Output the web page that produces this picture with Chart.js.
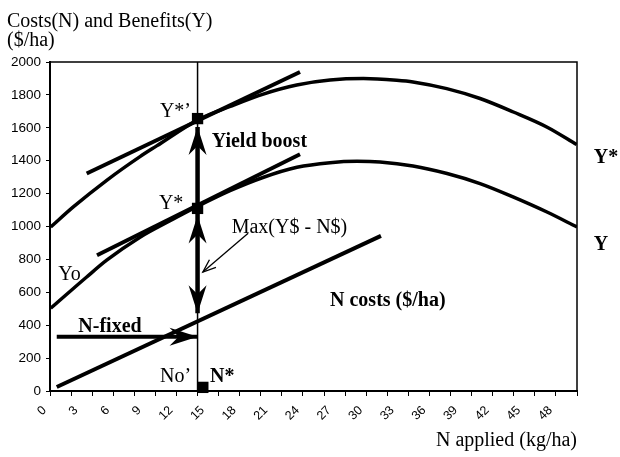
<!DOCTYPE html>
<html>
<head>
<meta charset="utf-8">
<script src="https://cdn.jsdelivr.net/npm/chart.js@4.4.1/dist/chart.umd.min.js"></script>
<style>
  html, body { margin: 0; padding: 0; background: #fff; }
  #wrap { width: 620px; height: 457px; }
</style>
</head>
<body>
<div id="wrap"><canvas id="costChart" width="620" height="457"></canvas></div>
<script>
// axis ticks (N applied, kg/ha)
const xTickLabels = [0, 3, 6, 9, 12, 15, 18, 21, 24, 27, 30, 33, 36, 39, 42, 45, 48];
const xTickMarks = [1, 3, 5, 7, 9, 11, 13, 15, 17, 19, 21, 23, 25, 27, 29, 31, 33, 35, 37, 39, 41, 43, 45, 47, 49, 51];

// Y : benefit curve without the yield boost ($/ha)
const yieldX = [1.07, 4.48, 6.38, 9.54, 12.39, 15.07, 18.08, 21.2, 24.43, 27.57, 30.13, 32.31, 35.44, 38.67, 41.8, 44.93, 48.15, 51];
const yieldY = [503, 693, 795, 935, 1035, 1125, 1218, 1298, 1360, 1388, 1396, 1392, 1368, 1322, 1261, 1180, 1088, 997];

// Y* : benefit curve with the yield boost ($/ha)
const boostX = [1.07, 3.21, 6.38, 9.54, 11.12, 15.07, 18.1, 21.24, 24.41, 27.57, 30.73, 33.89, 35.44, 38.64, 41.8, 44.96, 48.13, 50.97];
const boostY = [997, 1119, 1281, 1425, 1490, 1650, 1730, 1805, 1860, 1890, 1899, 1889, 1879, 1838, 1778, 1696, 1605, 1498];

// N costs line and the two tangents (same slope)
const nCostX = [1.64, 32.4];
const nCostY = [24, 943];
const tanBoostX = [4.48, 24.72];
const tanBoostY = [1322, 1939];
const tanYieldX = [5.46, 24.72];
const tanYieldY = [825, 1439];

// optimum N rate and the marked points
const optN = 15;
const markerX = [15, 15, 15.5];
const markerY = [1656, 1110, 22];

// thick arrow along N = 15, N-fixed arrow, pointer from the Max label
const shaftY = [472, 1605];
const nFixedX = [1.64, 15];
const nFixedY = [330, 330];
const maxPtrX = [19.8, 15.5];
const maxPtrY = [959, 723];

const arrows = [
  { from: [15, 1110], to: [15, 1605] },
  { from: [15, 700], to: [15, 1067] },
  { from: [15, 700], to: [15, 472] },
  { from: [nFixedX[0], nFixedY[0]], to: [nFixedX[1], nFixedY[1]] },
  { from: [maxPtrX[0], maxPtrY[0]], to: [maxPtrX[1], maxPtrY[1]], thin: true }
];

const notes = [
  { text: 'Y*\u2019', x: 14.38, y: 1666, align: 'right' },
  { text: 'Yield boost', x: 16.34, y: 1483, bold: true },
  { text: 'Y*', x: 13.65, y: 1109, align: 'right' },
  { text: 'Max(Y$ - N$)', x: 18.24, y: 958 },
  { text: 'Yo', x: 1.79, y: 673 },
  { text: 'N costs ($/ha)', x: 27.57, y: 518, bold: true },
  { text: 'N-fixed', x: 3.69, y: 359, bold: true },
  { text: 'No\u2019', x: 11.44, y: 55 },
  { text: 'N*', x: 16.18, y: 55, bold: true },
  { text: 'Y*', x: 52.6, y: 1384, bold: true },
  { text: 'Y', x: 52.6, y: 855, bold: true }
];

const serif = "'Liberation Serif', 'Times New Roman', serif";
const sans = "'Liberation Sans', Arial, sans-serif";

const pts = (xs, ys) => xs.map((x, i) => ({ x: x, y: ys[i] }));

function toPx(chart, x, y) {
  return [chart.scales.x.getPixelForValue(x), chart.scales.y.getPixelForValue(y)];
}

// frame, arrow heads and text labels
const overlay = {
  id: 'overlay',
  beforeDatasetsDraw(chart) {
    const { ctx, chartArea: a } = chart;
    ctx.save();
    ctx.strokeStyle = '#000';
    ctx.lineWidth = 1.5;
    ctx.strokeRect(a.left, a.top, a.right - a.left, a.bottom - a.top);
    ctx.restore();
  },
  afterDatasetsDraw(chart) {
    const ctx = chart.ctx;
    ctx.save();
    ctx.fillStyle = '#000';
    ctx.strokeStyle = '#000';
    arrows.forEach(ar => {
      const [x0, y0] = toPx(chart, ar.from[0], ar.from[1]);
      const [x1, y1] = toPx(chart, ar.to[0], ar.to[1]);
      const len = Math.hypot(x1 - x0, y1 - y0);
      const ux = (x1 - x0) / len, uy = (y1 - y0) / len;
      const nx = -uy, ny = ux;
      if (ar.thin) {
        ctx.lineWidth = 1.3;
        ctx.beginPath();
        ctx.moveTo(x1 - 13 * ux + 5 * nx, y1 - 13 * uy + 5 * ny);
        ctx.lineTo(x1, y1);
        ctx.lineTo(x1 - 13 * ux - 5 * nx, y1 - 13 * uy - 5 * ny);
        ctx.stroke();
      } else {
        const L = 28, W = 9, N = 9;
        ctx.beginPath();
        ctx.moveTo(x1, y1);
        ctx.lineTo(x1 - L * ux + W * nx, y1 - L * uy + W * ny);
        ctx.lineTo(x1 - (L - N) * ux, y1 - (L - N) * uy);
        ctx.lineTo(x1 - L * ux - W * nx, y1 - L * uy - W * ny);
        ctx.closePath();
        ctx.fill();
      }
    });
    ctx.textBaseline = 'alphabetic';
    notes.forEach(n => {
      const [x, y] = toPx(chart, n.x, n.y);
      ctx.font = (n.bold ? 'bold ' : '') + '20px ' + serif;
      ctx.textAlign = n.align || 'left';
      ctx.fillText(n.text, x, y);
    });
    ctx.restore();
  }
};

const line = (xs, ys, width, extra) => Object.assign({
  data: pts(xs, ys),
  showLine: true,
  borderColor: '#000',
  backgroundColor: '#000',
  borderWidth: width,
  pointRadius: 0
}, extra || {});

const ctx = document.getElementById('costChart').getContext('2d');
new Chart(ctx, {
  type: 'scatter',
  data: {
    datasets: [
      {
        data: pts(markerX, markerY),
        pointStyle: 'rect',
        pointRadius: 8,
        pointBorderWidth: 0,
        backgroundColor: '#000',
        borderColor: '#000',
        clip: false
      },
      line(yieldX, yieldY, 3.5, { cubicInterpolationMode: 'monotone' }),
      line(boostX, boostY, 3.5, { cubicInterpolationMode: 'monotone' }),
      line(nCostX, nCostY, 4),
      line(tanBoostX, tanBoostY, 4),
      line(tanYieldX, tanYieldY, 4),
      line([optN, optN], [0, 2000], 1.5),
      line([optN, optN], shaftY, 4.5),
      line(nFixedX, nFixedY, 4),
      line(maxPtrX, maxPtrY, 1.3)
    ]
  },
  options: {
    responsive: false,
    animation: false,
    layout: { padding: { left: 7, right: 43, top: 0, bottom: 0 } },
    plugins: {
      legend: { display: false },
      tooltip: { enabled: false },
      title: {
        display: true,
        text: ['Costs(N) and Benefits(Y)', '($/ha)'],
        align: 'start',
        color: '#000',
        font: { family: serif, size: 20, weight: 'normal', lineHeight: 0.92 },
        padding: { top: 13, bottom: 12.2 }
      }
    },
    scales: {
      x: {
        type: 'linear',
        min: 1,
        max: 51,
        afterBuildTicks: axis => {
          const vals = Array.from(new Set(xTickLabels.concat(xTickMarks))).sort((a, b) => a - b);
          axis.ticks = vals.map(v => ({ value: v }));
        },
        afterFit: scale => { scale.height = 66; },
        ticks: {
          autoSkip: false,
          minRotation: 45,
          maxRotation: 45,
          labelOffset: 5,
          padding: 7,
          color: '#000',
          font: { family: sans, size: 12.5 },
          callback: v => xTickLabels.includes(v) ? String(v) : ''
        },
        grid: {
          drawOnChartArea: false,
          drawTicks: true,
          tickLength: 5,
          tickColor: c => (c.tick && xTickMarks.includes(c.tick.value)) ? '#000' : 'rgba(0,0,0,0)'
        },
        border: { color: '#000', width: 2 },
        title: {
          display: true,
          text: 'N applied (kg/ha)',
          align: 'end',
          color: '#000',
          font: { family: serif, size: 20 },
          padding: { top: 0, bottom: 4.5 }
        }
      },
      y: {
        min: 0,
        max: 2000,
        afterFit: scale => { scale.width = 43; },
        ticks: {
          stepSize: 200,
          padding: 5,
          color: '#000',
          font: { family: sans, size: 13.5 },
          callback: v => String(v)
        },
        grid: {
          drawOnChartArea: false,
          tickLength: 4,
          tickColor: '#000'
        },
        border: { color: '#000', width: 2 }
      }
    }
  },
  plugins: [overlay]
});
</script>
</body>
</html>
